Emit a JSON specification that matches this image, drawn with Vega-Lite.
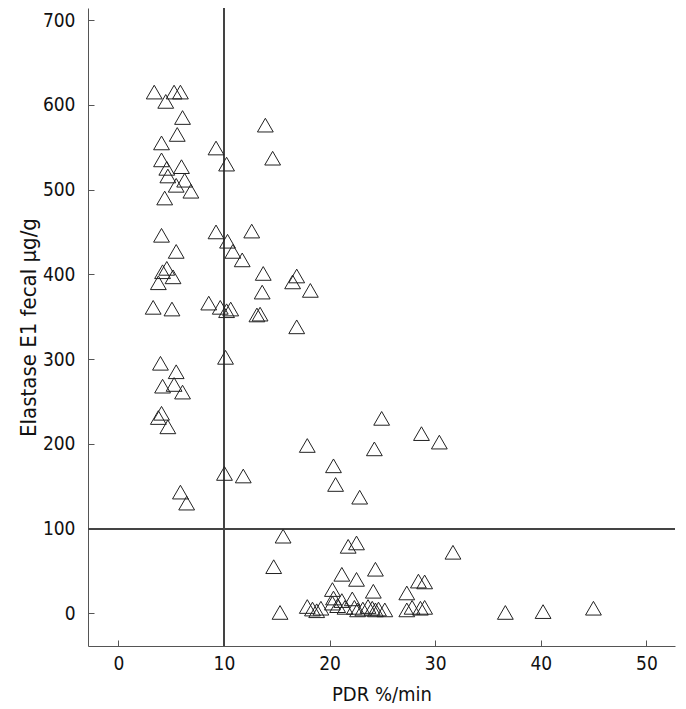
{
  "$schema": "https://vega.github.io/schema/vega-lite/v6.json",
  "autosize": {"type": "none"},
  "padding": {"left": 88, "top": 8, "right": 11, "bottom": 63},
  "width": 587,
  "height": 638,
  "config": {
    "view": {"stroke": null},
    "font": "DejaVu Sans Condensed",
    "axis": {
      "grid": false,
      "domainColor": "#555555",
      "tickColor": "#555555",
      "labelColor": "#111111",
      "titleColor": "#111111",
      "labelFont": "DejaVu Sans Condensed",
      "titleFont": "DejaVu Sans Condensed",
      "labelFontSize": 19,
      "titleFontSize": 20,
      "titleFontWeight": "normal",
      "tickSize": -6
    }
  },
  "data": {"values": [
    {"pdr": 3.40, "e1": 615}, {"pdr": 5.28, "e1": 615}, {"pdr": 5.88, "e1": 615}, {"pdr": 4.49, "e1": 604},
    {"pdr": 6.08, "e1": 585}, {"pdr": 5.58, "e1": 565}, {"pdr": 4.09, "e1": 555}, {"pdr": 9.25, "e1": 549},
    {"pdr": 4.09, "e1": 535}, {"pdr": 10.25, "e1": 530}, {"pdr": 4.59, "e1": 525}, {"pdr": 5.98, "e1": 527},
    {"pdr": 4.69, "e1": 516}, {"pdr": 6.28, "e1": 511}, {"pdr": 5.48, "e1": 505}, {"pdr": 6.87, "e1": 498},
    {"pdr": 4.39, "e1": 490}, {"pdr": 4.09, "e1": 446}, {"pdr": 9.25, "e1": 450}, {"pdr": 10.34, "e1": 439},
    {"pdr": 5.48, "e1": 427}, {"pdr": 10.84, "e1": 427}, {"pdr": 11.73, "e1": 417}, {"pdr": 4.59, "e1": 407},
    {"pdr": 4.19, "e1": 403}, {"pdr": 5.18, "e1": 397}, {"pdr": 3.79, "e1": 390}, {"pdr": 3.30, "e1": 361},
    {"pdr": 5.08, "e1": 359}, {"pdr": 8.56, "e1": 366}, {"pdr": 9.65, "e1": 361}, {"pdr": 10.25, "e1": 357},
    {"pdr": 10.64, "e1": 359}, {"pdr": 3.99, "e1": 295}, {"pdr": 10.15, "e1": 302}, {"pdr": 5.48, "e1": 285},
    {"pdr": 4.19, "e1": 268}, {"pdr": 5.28, "e1": 270}, {"pdr": 6.08, "e1": 261}, {"pdr": 4.09, "e1": 236},
    {"pdr": 3.79, "e1": 231}, {"pdr": 4.69, "e1": 220}, {"pdr": 10.05, "e1": 165}, {"pdr": 11.83, "e1": 162},
    {"pdr": 5.88, "e1": 143}, {"pdr": 6.47, "e1": 130}, {"pdr": 13.92, "e1": 576}, {"pdr": 14.61, "e1": 537},
    {"pdr": 12.63, "e1": 451}, {"pdr": 13.72, "e1": 401}, {"pdr": 16.89, "e1": 398}, {"pdr": 16.50, "e1": 391},
    {"pdr": 18.18, "e1": 381}, {"pdr": 13.62, "e1": 379}, {"pdr": 13.12, "e1": 352}, {"pdr": 13.42, "e1": 353},
    {"pdr": 16.89, "e1": 338}, {"pdr": 24.93, "e1": 230}, {"pdr": 28.70, "e1": 212}, {"pdr": 30.39, "e1": 202},
    {"pdr": 17.89, "e1": 198}, {"pdr": 24.24, "e1": 194}, {"pdr": 20.37, "e1": 174}, {"pdr": 20.57, "e1": 152},
    {"pdr": 22.85, "e1": 137}, {"pdr": 15.60, "e1": 91}, {"pdr": 21.76, "e1": 79}, {"pdr": 22.55, "e1": 83},
    {"pdr": 31.68, "e1": 72}, {"pdr": 14.71, "e1": 55}, {"pdr": 21.16, "e1": 46}, {"pdr": 22.55, "e1": 40},
    {"pdr": 24.34, "e1": 52}, {"pdr": 20.27, "e1": 28}, {"pdr": 24.14, "e1": 26}, {"pdr": 27.31, "e1": 24},
    {"pdr": 28.41, "e1": 38}, {"pdr": 29.00, "e1": 37}, {"pdr": 15.31, "e1": 1}, {"pdr": 17.89, "e1": 8},
    {"pdr": 18.38, "e1": 5}, {"pdr": 18.78, "e1": 3}, {"pdr": 19.18, "e1": 6}, {"pdr": 20.27, "e1": 12},
    {"pdr": 20.37, "e1": 18}, {"pdr": 20.76, "e1": 9}, {"pdr": 21.16, "e1": 15}, {"pdr": 21.46, "e1": 7},
    {"pdr": 22.15, "e1": 17}, {"pdr": 22.35, "e1": 7}, {"pdr": 22.65, "e1": 4}, {"pdr": 23.15, "e1": 5},
    {"pdr": 23.64, "e1": 8}, {"pdr": 24.04, "e1": 6}, {"pdr": 24.34, "e1": 4}, {"pdr": 24.63, "e1": 5},
    {"pdr": 25.23, "e1": 4}, {"pdr": 27.31, "e1": 4}, {"pdr": 27.81, "e1": 7}, {"pdr": 28.60, "e1": 6},
    {"pdr": 29.00, "e1": 7}, {"pdr": 36.64, "e1": 1}, {"pdr": 40.21, "e1": 2}, {"pdr": 44.98, "e1": 6}
  ]},
  "layer": [
    {
      "mark": {"type": "rule", "color": "#444444", "strokeWidth": 1.2},
      "encoding": {"x": {"datum": 10, "type": "quantitative"}}
    },
    {
      "mark": {"type": "rule", "color": "#444444", "strokeWidth": 1.2},
      "encoding": {"y": {"datum": 100, "type": "quantitative"}}
    },
    {
      "mark": {"type": "point", "shape": "triangle-up", "size": 250, "filled": false, "stroke": "#222222", "strokeWidth": 1, "opacity": 1},
      "encoding": {
        "x": {"field": "pdr", "type": "quantitative", "title": "PDR %/min",
              "scale": {"domain": [-2.87, 52.7], "nice": false, "zero": false},
              "axis": {"values": [0, 10, 20, 30, 40, 50], "labelPadding": 14, "titlePadding": 11}},
        "y": {"field": "e1", "type": "quantitative", "title": "Elastase E1 fecal μg/g",
              "scale": {"domain": [-38.6, 714.2], "nice": false, "zero": false},
              "axis": {"values": [0, 100, 200, 300, 400, 500, 600, 700], "labelPadding": 19, "titlePadding": 2, "titleFontSize": 22}}
      }
    }
  ]
}
